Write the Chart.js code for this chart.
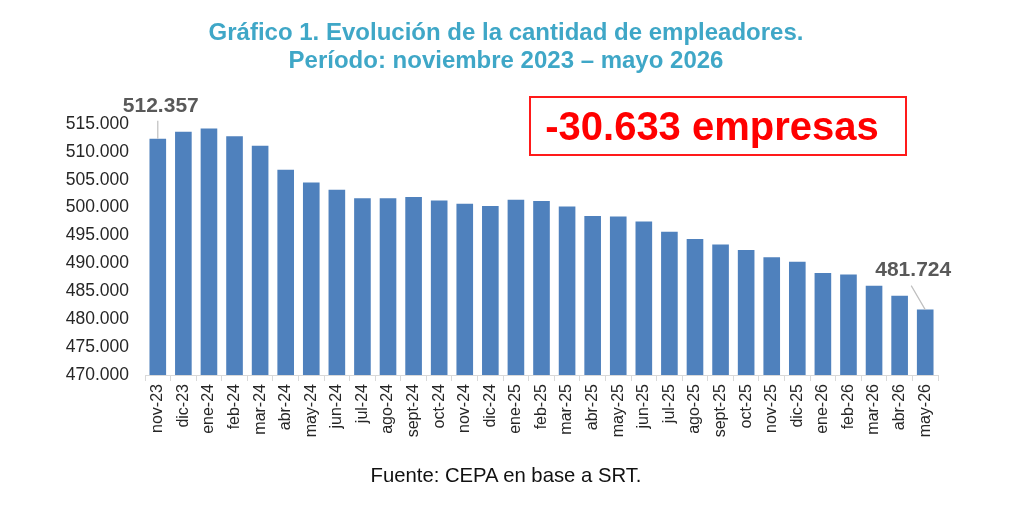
<!DOCTYPE html>
<html lang="es">
<head>
<meta charset="utf-8">
<script src="https://cdn.jsdelivr.net/npm/chart.js@4.4.1/dist/chart.umd.min.js"></script>
<style>
  html, body { margin: 0; padding: 0; background: #ffffff; }
  #wrap { position: relative; width: 1024px; height: 508px; overflow: hidden; font-family: "Liberation Sans", Arial, sans-serif; }
  #chart { position: absolute; left: 0; top: 0; }
  #title { position: absolute; left: 0; top: 18px; width: 1012px; text-align: center; color: #3fa7c7; font-weight: bold; font-size: 24px; line-height: 28px; }
  #box { position: absolute; left: 529px; top: 96px; width: 374px; height: 56px; border: 2px solid #ff1a1a; color: #ff0000; font-weight: bold; font-size: 40px; line-height: 56px; text-align: center; box-sizing: content-box; }
  #box span { position: relative; left: -6px; }
  #footer { position: absolute; left: 0; top: 463px; width: 1012px; text-align: center; color: #111; font-size: 20.3px; line-height: 24px; }
</style>
</head>
<body>
<div id="wrap">
  <canvas id="chart" width="1024" height="508"></canvas>
  <div id="title">Gráfico 1. Evolución de la cantidad de empleadores.<br>Período: noviembre 2023 – mayo 2026</div>
  <div id="box"><span id="boxText"></span></div>
  <div id="footer">Fuente: CEPA en base a SRT.</div>
</div>
<script>
const categories = ["nov-23","dic-23","ene-24","feb-24","mar-24","abr-24","may-24","jun-24","jul-24","ago-24","sept-24","oct-24","nov-24","dic-24","ene-25","feb-25","mar-25","abr-25","may-25","jun-25","jul-25","ago-25","sept-25","oct-25","nov-25","dic-25","ene-26","feb-26","mar-26","abr-26","may-26"];
const empleadores = [512357,513600,514200,512800,511100,506800,504500,503200,501700,501700,501900,501300,500700,500300,501400,501200,500200,498500,498400,497500,495700,494400,493400,492400,491100,490300,488300,488000,486000,484200,481724];
const yMin = 470000;
const yMax = 515000;
const yStep = 5000;

function fmt(v) {
  const s = Math.abs(Math.round(v)).toString().replace(/\B(?=(\d{3})+(?!\d))/g, ".");
  return (v < 0 ? "-" : "") + s;
}

const diff = empleadores[empleadores.length - 1] - empleadores[0];
document.getElementById("boxText").textContent = fmt(diff) + " empresas";

const endLabels = {
  id: "endLabels",
  afterDatasetsDraw(chart) {
    const meta = chart.getDatasetMeta(0);
    const ctx = chart.ctx;
    const first = meta.data[0];
    const last = meta.data[meta.data.length - 1];
    ctx.save();
    ctx.strokeStyle = "#bfbfbf";
    ctx.lineWidth = 1.2;
    ctx.beginPath();
    ctx.moveTo(first.x, first.y);
    ctx.lineTo(first.x, first.y - 18);
    ctx.moveTo(last.x, last.y);
    ctx.lineTo(last.x - 14, last.y - 24);
    ctx.stroke();
    ctx.fillStyle = "#595959";
    ctx.font = "bold 21px 'Liberation Sans', Arial, sans-serif";
    ctx.textAlign = "center";
    ctx.textBaseline = "alphabetic";
    ctx.fillText(fmt(empleadores[0]), first.x + 3, first.y - 27);
    ctx.fillText(fmt(empleadores[empleadores.length - 1]), last.x - 12, last.y - 34);
    ctx.restore();
  }
};

new Chart(document.getElementById("chart"), {
  type: "bar",
  data: {
    labels: categories,
    datasets: [{
      data: empleadores,
      backgroundColor: "#4f81bd",
      borderWidth: 0,
      categoryPercentage: 1.0,
      barPercentage: 0.65
    }]
  },
  options: {
    responsive: false,
    animation: false,
    devicePixelRatio: 1,
    layout: { padding: { top: 124, right: 86, bottom: 0, left: 0 } },
    plugins: {
      legend: { display: false },
      tooltip: { enabled: false },
      title: { display: false }
    },
    scales: {
      x: {
        offset: true,
        grid: { display: true, drawOnChartArea: false, drawTicks: true, tickLength: 6, color: "#d9d9d9", offset: true },
        border: { display: true, color: "#d9d9d9" },
        ticks: {
          minRotation: 90, maxRotation: 90, autoSkip: false, padding: 3,
          color: "#262626",
          font: { family: "'Liberation Sans', Arial, sans-serif", size: 16 }
        },
        afterFit(scale) { scale.height = 133; }
      },
      y: {
        min: yMin, max: yMax,
        grid: { display: false },
        border: { display: false },
        ticks: {
          stepSize: yStep, padding: 8,
          color: "#262626",
          font: { family: "'Liberation Sans', Arial, sans-serif", size: 17.5 },
          callback: (v) => fmt(v)
        },
        afterFit(scale) { scale.width = 145; }
      }
    }
  },
  plugins: [endLabels]
});
</script>
</body>
</html>
